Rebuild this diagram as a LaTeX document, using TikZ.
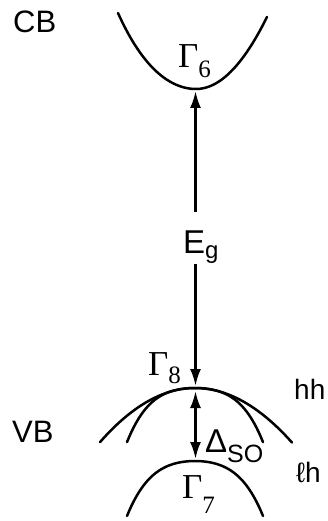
\documentclass[tikz,border=0pt]{standalone}
\usepackage{fontspec}
\setmainfont{Liberation Sans}
\newfontfamily\gfont{Liberation Serif}
\usetikzlibrary{arrows.meta}
\tikzset{
  band/.style={line width=2.5pt, line cap=round},
  arr/.style={line width=2.5pt, -{Latex[length=17pt,width=11pt]}},
  darr/.style={line width=2.5pt, {Latex[length=17pt,width=11pt]}-{Latex[length=17pt,width=11pt]}},
  lbl/.style={inner sep=0pt, anchor=base west, font=\fontsize{31}{31}\selectfont},
  rlbl/.style={inner sep=0pt, anchor=base west, font=\fontsize{28}{28}\selectfont},
  glbl/.style={inner sep=0pt, anchor=base west},
}
\newcommand{\Gam}[2]{{\gfont\fontsize{35}{35}\selectfont Γ}\raisebox{#2}{\gfont\fontsize{25}{25}\selectfont #1}}
\begin{document}
\begin{tikzpicture}[x=1pt,y=-1pt]
\useasboundingbox (0,0) rectangle (328,521);
% band apex coordinates
\coordinate (cb) at (195.5,89);
\coordinate (hh) at (195.5,388);
\coordinate (g7) at (195.5,461);
% conduction band
\draw[band] plot[domain=-78:0,samples=40] ({196+\x},{89-0.01073*\x*\x-0.0029*(\x/10)*(\x/10)*(\x/10)*(\x/10)})
  -- plot[domain=0:71,samples=40] ({196+\x},{89-0.0143*\x*\x});
% heavy hole
\draw[band] plot[domain=-95:0,samples=40] ({195+\x},{388+0.006*\x*\x})
  -- plot[domain=0:97,samples=40] ({195+\x},{388+0.0058*\x*\x});
% light hole
\draw[band] plot[domain=-68:68,samples=60] ({195+\x},{388+0.005*\x*\x+0.0145*(\x/10)*(\x/10)*(\x/10)*(\x/10)});
% split-off band
\draw[band] plot[domain=-68:68,samples=60] ({195+\x},{461+0.00571*\x*\x+0.01336*(\x/10)*(\x/10)*(\x/10)*(\x/10)});
% labels
\node[lbl] (cbl) at (13,33) {CB};
\node[lbl] (vbl) at (12,442) {VB};
\node[rlbl] (hhl) at (294,399) {hh};
\node[rlbl] (lhl) at (296,482) {ℓh};
\node[glbl] (g6l) at (178,68) {\Gam{6}{-10pt}};
\node[glbl] (g8l) at (148,375) {\Gam{8}{-8pt}};
\node[glbl] (g7l) at (182,498) {\Gam{7}{-15pt}};
\node[glbl] (eg) at (183,253) {{\fontsize{33}{33}\selectfont E}\raisebox{-5pt}{\fontsize{24}{24}\selectfont g}};
\node[glbl] (dso) at (205,452) {{\fontsize{33}{33}\selectfont Δ}\raisebox{-10pt}{\fontsize{25}{25}\selectfont SO}};
% arrows
\draw[arr, shorten <=18pt, shorten >=2pt] (cb |- eg.north) -- (cb);
\draw[arr, shorten <=1pt, shorten >=2pt] (hh |- eg.south) -- (hh);
\draw[darr, shorten <=3pt, shorten >=2pt] (hh) -- (g7);
\end{tikzpicture}
\end{document}
